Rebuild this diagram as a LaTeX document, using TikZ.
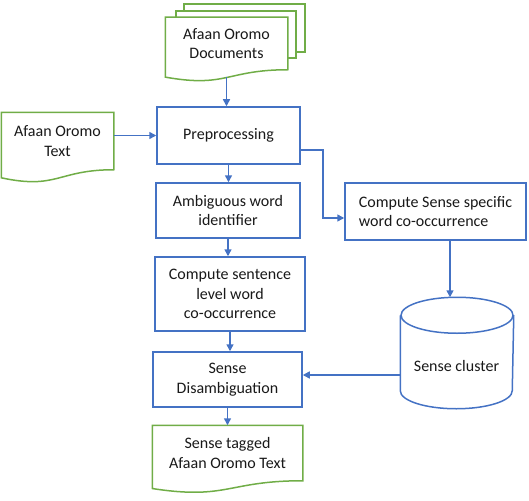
\documentclass[tikz,border=0pt]{standalone}
\usepackage{fontspec}
\setmainfont{Carlito}
\usetikzlibrary{arrows.meta, positioning, calc}
\definecolor{OfficeBlue}{HTML}{4472C4}
\definecolor{OfficeGreen}{HTML}{70AD47}

% wavy document outline round a named node
\newcommand{\docoutline}[1]{%
  \draw[docline] (#1.north west) -- (#1.north east) -- (#1.south east)
    .. controls (#1.south) and ($(#1.north)!1.35!(#1.south)$) .. ($(#1.north west)!1.14!(#1.south west)$) -- cycle;}

\begin{document}
\begin{tikzpicture}[x=1pt, y=-1pt, >={Triangle[length=7pt,width=7pt]}, line width=1.5pt,
    every node/.style={font=\fontsize{16}{19.5}\selectfont, text=black!90},
    box/.style={draw=OfficeBlue, fill=white, align=center, inner sep=2pt},
    doc/.style={fill=white, align=center, inner sep=0pt},
    docline/.style={draw=OfficeGreen},
    flow/.style={->, draw=OfficeBlue}]
        \useasboundingbox (0,0) rectangle (529,500);
        % Stacked documents
        \draw [docline, fill=white] (184,4) rectangle (305,52);
        \draw [docline, fill=white] (176,11) rectangle (296,58);
        \node [doc, minimum width=121, minimum height=51] (docs) at (226.5,43.5) {Afaan Oromo\\Documents};
        \docoutline{docs}
        \coordinate (docsbot) at ($(docs.north)!1.14!(docs.south)$);
        % Input text
        \node [doc, minimum width=111, minimum height=56] (text) at (57.5,141) {Afaan Oromo\\Text};
        \docoutline{text}
        % Main column
        \node [box, minimum width=143, minimum height=57] (prep) at (228.5,135.5) {Preprocessing};
        \node [box, minimum width=144, minimum height=55] (ambig) at (228,210.5) {Ambiguous word\\identifier};
        \node [box, minimum width=150, minimum height=74] (sentence) at (230,294) {Compute sentence\\level word\\co-occurrence};
        \node [box, minimum width=149, minimum height=55] (disamb) at (227.5,379.5) {Sense\\Disambiguation};
        \node [doc, minimum width=149, minimum height=54] (output) at (227.5,453) {Sense tagged\\Afaan Oromo Text};
        \docoutline{output}
        % Right column
        \node [box, align=left, minimum width=181, minimum height=57] (specific) at (435.5,211.5) {Compute Sense specific\\word co-occurrence};
        \node [minimum width=112, minimum height=110, inner sep=0pt] (cyl) at (457,353) {};
        \draw [draw=OfficeBlue] ([yshift=-18pt]cyl.north west) -- ([yshift=18pt]cyl.south west)
            arc [start angle=180, end angle=0, x radius=56, y radius=18] -- ([yshift=-18pt]cyl.north east);
        \draw [draw=OfficeBlue] ([yshift=-18pt]cyl.north) ellipse [x radius=56, y radius=18];
        \node (cluster) at (456.5,366) {Sense cluster};
        % Connectors
        \draw [flow] (docsbot) -- (docsbot |- prep.north);
        \draw [flow] (text.east |- prep.west) -- (prep.west);
        \draw [flow] (prep.south) -- (prep.south |- ambig.north);
        \draw [flow] (ambig.south) -- (ambig.south |- sentence.north);
        \draw [flow] (sentence.south) -- (sentence.south |- disamb.north);
        \draw [flow] (disamb.south) -- (disamb.south |- output.north);
        \draw [flow] ([yshift=-14.5pt]prep.east) -- ++(22,0) |- ([yshift=-6.5pt]specific.west);
        \draw [flow] ([xshift=14.5pt]specific.south) -- ([xshift=14.5pt]specific.south |- cyl.north);
        \draw [flow] ([yshift=-22pt]cyl.west) -- ([yshift=4.5pt]disamb.east);
    \end{tikzpicture}
\end{document}
